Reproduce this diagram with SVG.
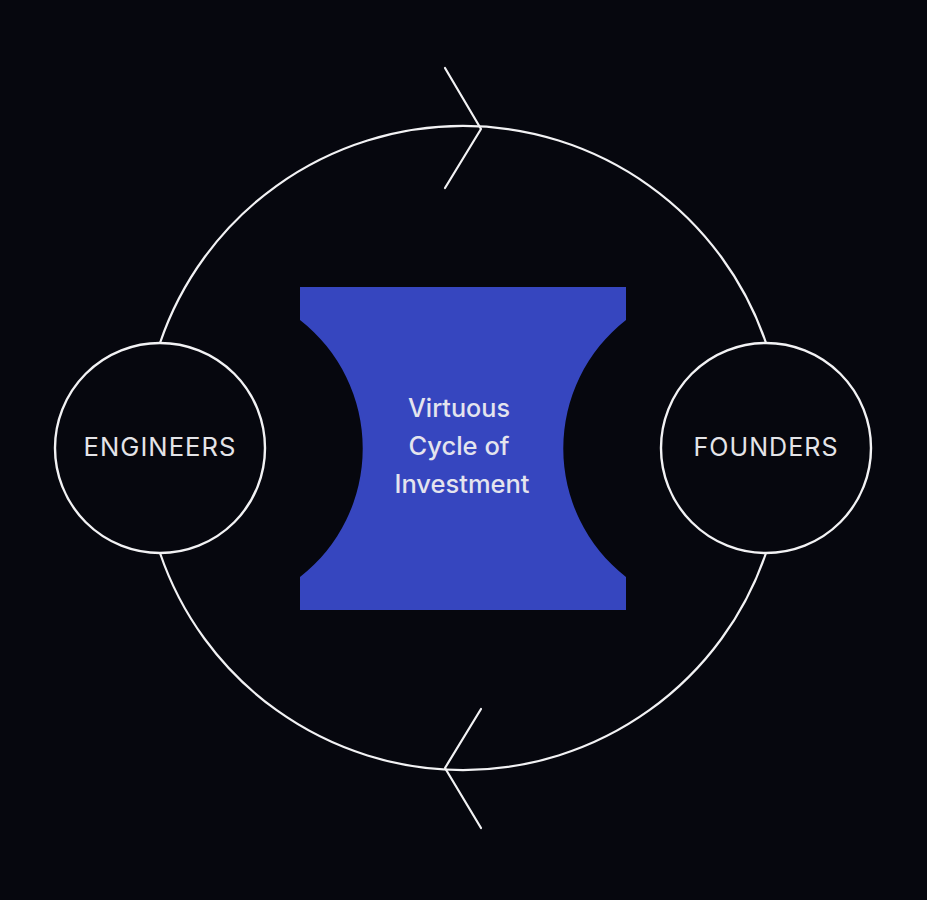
<svg xmlns="http://www.w3.org/2000/svg" width="927" height="900" viewBox="0 0 927 900">
  <style>
    .line { fill: none; stroke: #f2f2f4; stroke-width: 2.2; stroke-linecap: round; stroke-linejoin: round; }
    .node { fill: #06070e; stroke: #f2f2f4; stroke-width: 2.4; }
    .label { font-family: Inter, "Noto Sans", "Liberation Sans", sans-serif; font-size: 25px; fill: #e4e4e8; text-anchor: middle; letter-spacing: 1px; }
    .center { font-family: Inter, "Noto Sans", "Liberation Sans", sans-serif; font-size: 25px; font-weight: 500; fill: #e4e4ee; text-anchor: middle; }
  </style>
  <rect x="0" y="0" width="927" height="900" fill="#06070e"/>
  <g id="connectors">
    <path class="line" d="M 160 343 A 320 320 0 0 1 766 343"/>
    <path class="line" d="M 766 553 A 320 320 0 0 1 160 553"/>
    <polyline class="line" points="445,68 481,129 445,188"/>
    <polyline class="line" points="481,709 445,768 481,828"/>
  </g>
  <g id="center">
    <path d="M 300 287 L 626 287 L 626 320 A 163 163 0 0 0 626 577 L 626 610 L 300 610 L 300 577 A 163 163 0 0 0 300 320 Z" fill="#3646bf"/>
    <text class="center" x="459" y="417" textLength="102" lengthAdjust="spacingAndGlyphs">Virtuous</text>
    <text class="center" x="459" y="455" textLength="101" lengthAdjust="spacingAndGlyphs">Cycle of</text>
    <text class="center" x="462" y="493" textLength="135" lengthAdjust="spacingAndGlyphs">Investment</text>
  </g>
  <g id="engineers">
    <circle class="node" cx="160" cy="448" r="105"/>
    <text class="label" x="160" y="456" textLength="153" lengthAdjust="spacingAndGlyphs">ENGINEERS</text>
  </g>
  <g id="founders">
    <circle class="node" cx="766" cy="448" r="105"/>
    <text class="label" x="766" y="456" textLength="145" lengthAdjust="spacingAndGlyphs">FOUNDERS</text>
  </g>
</svg>
